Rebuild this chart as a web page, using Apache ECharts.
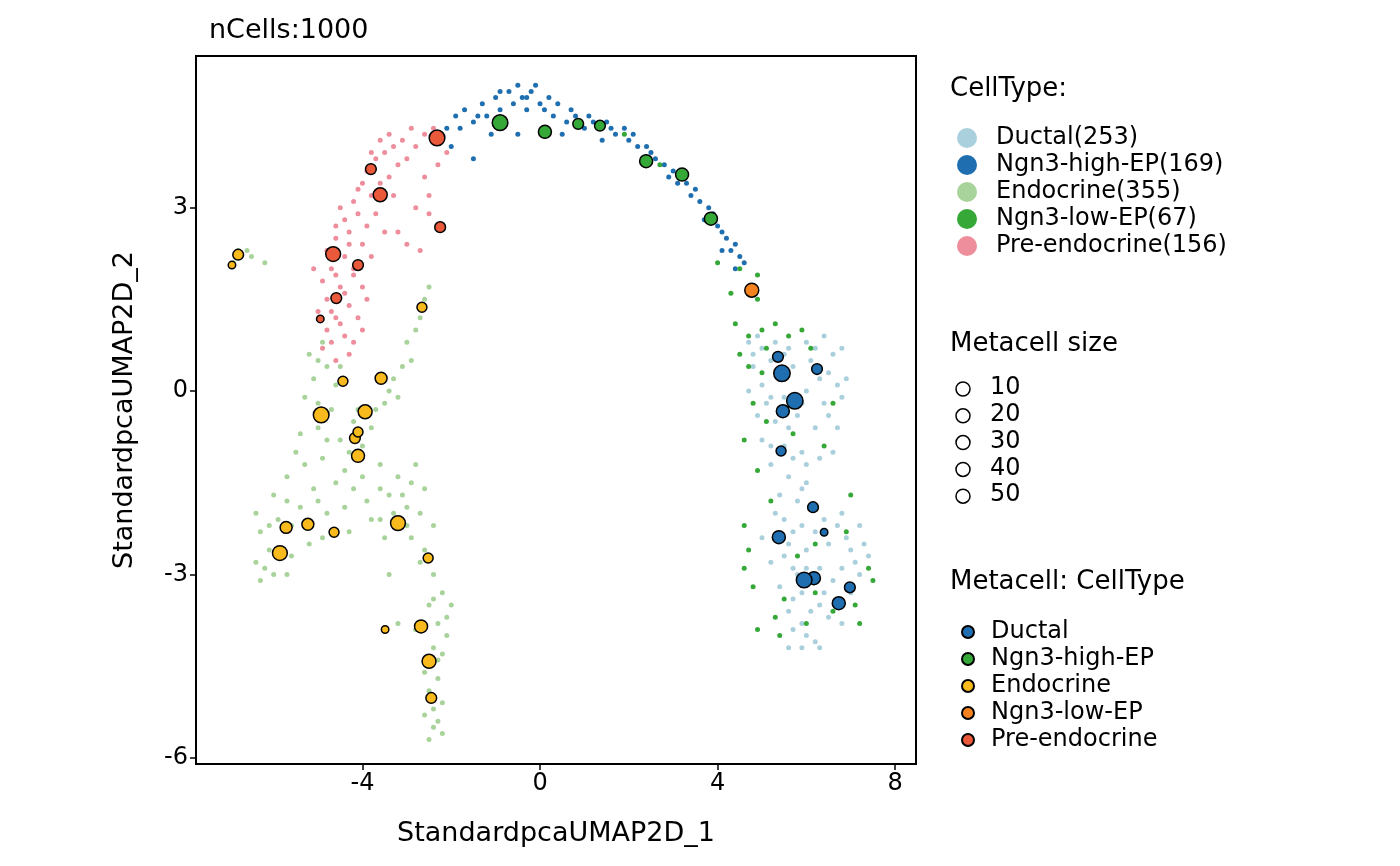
<!DOCTYPE html>
<html>
<head>
<meta charset="utf-8">
<script src="https://cdn.jsdelivr.net/npm/echarts@6/dist/echarts.min.js"></script>
<style>html,body{margin:0;padding:0;background:#fff}#chart{width:1400px;height:866px}</style>
</head>
<body>
<div id="chart"></div>
<script>
// 细胞类型
const cellTypes = ['Ductal', 'Ngn3-high-EP', 'Endocrine', 'Ngn3-low-EP', 'Pre-endocrine'];
const cellCounts = [253, 169, 355, 67, 156];
const cellColors = ['#A9D0DC', '#1F6FB0', '#A8D39A', '#35A838', '#EE8E9C'];
const metaColors = ['#1F6FB0', '#35A838', '#F8BA1C', '#F4821F', '#EA5A3A'];
const xTicks = [-4, 0, 4, 8];
const yTicks = [-6, -3, 0, 3];
const sizeTicks = [10, 20, 30, 40, 50];

// 单细胞坐标
const ductalCells = [[4.7,0.8],[5.0,0.7],[5.3,0.8],[5.6,0.7],[6.0,0.8],[6.4,0.9],[6.8,0.7],[4.8,0.4],[5.2,0.5],[5.7,0.4],[6.1,0.5],[6.5,0.3],[6.9,0.2],[4.7,0.0],[5.0,0.1],[5.5,-0.1],[6.0,0.0],[6.4,-0.2],[6.8,-0.1],[4.9,-0.4],[5.3,-0.5],[5.8,-0.4],[6.2,-0.6],[6.7,-0.6],[5.0,-0.8],[5.5,-0.9],[5.9,-1.0],[6.3,-1.1],[5.2,-1.2],[5.6,-1.4],[6.0,-1.5],[5.4,-1.7],[5.8,-1.8],[6.2,-1.9],[5.5,-2.1],[5.9,-2.2],[6.4,-2.1],[6.8,-2.0],[7.2,-2.2],[5.0,-2.4],[5.6,-2.5],[6.0,-2.6],[6.5,-2.5],[7.0,-2.6],[7.4,-2.7],[5.2,-2.8],[5.7,-2.9],[6.3,-2.9],[6.8,-2.9],[7.2,-3.0],[5.4,-3.2],[5.9,-3.3],[6.4,-3.3],[7.0,-3.3],[5.6,-3.6],[6.1,-3.6],[6.5,-3.7],[5.7,-3.9],[6.0,-4.0],[5.9,-4.2],[6.2,-4.1],[5.6,-4.2],[6.8,-3.8],[6.0,-1.2],[5.3,-2.0],[7.3,-2.5],[4.9,0.9],[6.6,0.6],[5.4,0.2],[6.3,0.2],[5.1,-0.2],[6.6,-1.0],[6.9,-2.4],[5.8,-3.0],[6.3,-4.2],[4.8,0.6],[5.5,0.6],[6.2,0.7],[6.7,0.1],[5.2,-0.1],[5.9,-0.2],[6.5,-0.4],[5.6,-0.6],[5.2,-0.9],[5.7,-1.1],[5.9,-1.6],[5.7,-2.3],[6.2,-2.3],[6.7,-2.2],[7.1,-2.8],[5.5,-2.7],[6.0,-2.9],[6.6,-3.1],[5.7,-3.4],[6.3,-3.5],[5.9,-3.8]];
const highEPCells = [[-2.1,4.3],[-1.9,4.5],[-1.7,4.6],[-1.5,4.4],[-1.3,4.7],[-1.2,4.5],[-1.0,4.8],[-0.9,4.6],[-0.7,4.9],[-0.6,4.7],[-0.5,5.0],[-0.4,4.8],[-0.3,4.6],[-0.2,4.9],[-0.1,5.0],[0.0,4.7],[0.1,4.6],[0.3,4.5],[0.4,4.7],[0.6,4.4],[0.8,4.5],[1.0,4.3],[1.2,4.4],[1.5,4.4],[1.7,4.2],[1.9,4.3],[2.0,4.1],[2.2,4.0],[2.4,4.0],[2.6,3.8],[2.8,3.7],[3.0,3.6],[3.1,3.4],[3.3,3.4],[3.5,3.3],[3.6,3.1],[3.8,3.0],[3.9,2.9],[4.0,2.7],[4.1,2.6],[4.2,2.5],[4.3,2.3],[4.4,2.4],[4.5,2.2],[4.6,2.1],[-1.5,3.8],[-0.5,4.2],[0.5,4.2],[-1.1,4.2],[-2.0,4.0],[1.4,4.1],[-0.8,4.4],[3.7,2.8],[4.1,2.3],[2.9,3.5],[-1.8,4.3],[-1.4,4.5],[-0.9,4.9],[-0.3,4.8],[0.2,4.8],[0.7,4.6],[1.1,4.5],[1.6,4.3],[2.1,4.2],[2.5,3.9],[3.2,3.5],[3.4,3.2],[4.4,2.0]];
const endocrineCells = [[-6.8,2.3],[-6.5,2.2],[-6.9,2.1],[-6.2,2.1],[-6.6,2.3],[-2.5,1.7],[-2.6,1.5],[-2.7,1.2],[-2.8,1.0],[-3.0,0.8],[-2.9,0.5],[-3.1,0.4],[-3.3,0.2],[-3.4,0.0],[-3.5,-0.2],[-3.7,-0.3],[-3.2,-0.1],[-4.9,0.8],[-5.2,0.6],[-4.8,0.4],[-5.1,0.2],[-4.6,0.1],[-5.3,-0.1],[-4.7,-0.3],[-5.0,-0.6],[-5.4,-0.7],[-4.5,-0.8],[-4.1,-0.3],[-4.3,-1.0],[-4.9,-1.1],[-5.3,-1.2],[-5.7,-1.4],[-6.0,-1.7],[-4.6,-1.5],[-5.1,-1.6],[-4.0,-1.4],[-3.6,-1.2],[-3.2,-1.4],[-2.9,-1.5],[-2.6,-1.6],[-3.4,-1.7],[-3.9,-1.8],[-4.4,-1.9],[-4.8,-2.0],[-5.4,-1.9],[-5.9,-2.1],[-6.3,-2.3],[-6.1,-2.6],[-6.4,-2.8],[-6.0,-3.0],[-6.3,-3.1],[-5.6,-2.7],[-5.2,-2.5],[-4.9,-2.4],[-4.3,-2.3],[-3.8,-2.1],[-3.0,-1.9],[-2.7,-2.0],[-3.5,-2.4],[-2.9,-2.4],[-2.6,-2.6],[-2.4,-3.0],[-2.2,-3.3],[-2.5,-3.5],[-2.3,-3.8],[-2.1,-4.0],[-2.4,-4.2],[-2.6,-4.6],[-2.3,-4.7],[-2.5,-4.9],[-2.2,-5.1],[-2.6,-5.3],[-2.4,-5.5],[-2.2,-5.6],[-2.8,-3.9],[-3.2,-3.8],[-4.0,-0.9],[-3.8,-0.6],[-6.4,-2.0],[-5.7,-3.0],[-4.4,-1.3],[-3.4,-3.0],[-2.8,-1.2],[-2.0,-3.5],[-3.0,-2.2],[-3.6,-1.6],[-5.6,-2.2],[-4.2,-0.5],[-2.4,-2.2],[-2.3,-4.4],[-2.5,-5.7],[-5.0,-0.2],[-4.8,-0.8],[-5.5,-1.0],[-4.2,-1.6],[-3.3,-2.0],[-3.1,-1.7],[-3.6,-2.1],[-5.0,-1.8],[-5.7,-1.8],[-6.2,-2.9],[-6.1,-2.2],[-2.4,-3.4],[-2.2,-4.3],[-2.4,-5.2],[-2.3,-5.4],[-2.1,-3.7],[-2.7,-2.8],[-4.5,0.4],[-5.0,0.5]];
const lowEPCells = [[4.5,2.0],[4.9,1.9],[4.4,1.1],[4.7,0.9],[5.0,1.0],[5.3,1.1],[4.5,0.6],[4.7,0.4],[5.6,0.9],[5.9,1.0],[6.1,0.7],[4.8,-0.2],[5.1,-0.5],[5.7,-0.7],[6.4,-0.9],[4.9,-1.3],[4.6,-2.2],[4.7,-2.6],[4.6,-2.9],[4.8,-3.2],[5.5,-3.4],[6.2,-3.3],[7.4,-2.9],[7.5,-3.1],[4.9,-3.9],[5.3,-3.7],[6.6,-3.6],[7.1,-3.5],[5.8,-2.7],[6.2,-2.5],[4.6,-0.8],[5.0,0.3],[1.9,4.2],[2.7,3.7],[4.0,2.1],[5.2,-1.8],[7.0,-1.7],[6.6,-0.2],[5.4,-4.0],[6.0,-3.8],[4.9,1.5],[4.3,1.6],[5.1,0.7],[6.9,-2.3],[7.2,-3.8]];
const preEndoCells = [[-2.9,4.3],[-2.6,4.2],[-3.1,4.1],[-3.3,4.0],[-2.8,4.0],[-3.5,3.9],[-3.0,3.8],[-3.7,3.8],[-3.2,3.7],[-3.9,3.6],[-3.4,3.5],[-4.0,3.4],[-3.6,3.4],[-3.8,3.2],[-4.2,3.1],[-3.3,3.2],[-4.1,2.9],[-3.7,2.9],[-4.4,2.8],[-3.9,2.7],[-4.3,2.6],[-3.5,2.6],[-4.6,2.5],[-4.0,2.4],[-4.8,2.3],[-4.4,2.2],[-3.8,2.2],[-4.7,2.0],[-4.2,1.9],[-4.9,1.8],[-4.5,1.7],[-4.0,1.7],[-4.8,1.5],[-4.3,1.4],[-5.0,1.3],[-4.6,1.2],[-4.1,1.2],[-4.8,1.0],[-4.4,0.9],[-4.9,0.7],[-4.3,0.6],[-4.6,0.5],[-2.3,3.7],[-2.6,3.5],[-2.5,3.2],[-2.8,3.0],[-2.5,2.9],[-3.0,2.4],[-2.7,2.3],[-3.2,2.6],[-2.1,3.9],[-2.4,4.3],[-3.6,4.1],[-4.5,3.0],[-4.6,2.7],[-5.1,2.0],[-4.0,1.0],[-3.9,1.5],[-4.7,0.8],[-4.2,2.0],[-3.4,4.2],[-3.8,3.9],[-4.1,3.3],[-4.3,2.4],[-4.6,1.9],[-4.4,1.6],[-4.7,1.3],[-4.5,1.1],[-4.2,0.8]];
const cellData = [ductalCells, highEPCells, endocrineCells, lowEPCells, preEndoCells];

// 元细胞: [x, y, size]
const metaDuctal = [[5.36,0.56,15],[5.45,0.29,45],[6.24,0.36,15],[5.74,-0.16,45],[5.47,-0.33,25],[5.43,-0.98,12],[6.15,-1.90,15],[6.40,-2.31,5],[5.38,-2.39,25],[6.17,-3.06,25],[5.95,-3.09,40],[6.98,-3.21,15],[6.73,-3.47,25]];
const metaHighEP = [[-0.90,4.39,40],[0.11,4.24,25],[0.86,4.37,15],[1.35,4.34,15],[2.39,3.76,25],[3.20,3.54,25],[3.85,2.82,25]];
const metaEndocrine = [[-6.80,2.23,15],[-6.94,2.06,5],[-2.66,1.37,12],[-4.44,0.16,12],[-3.58,0.21,20],[-4.93,-0.39,40],[-3.94,-0.34,30],[-4.17,-0.77,15],[-4.10,-0.67,12],[-4.10,-1.06,25],[-5.72,-2.23,20],[-5.23,-2.18,20],[-5.86,-2.65,35],[-4.64,-2.31,12],[-3.20,-2.16,35],[-2.52,-2.73,12],[-2.68,-3.85,25],[-3.49,-3.90,5],[-2.50,-4.42,30],[-2.45,-5.02,15]];
const metaLowEP = [[4.77,1.65,30]];
const metaPreEndo = [[-2.32,4.14,40],[-3.81,3.63,15],[-3.60,3.21,30],[-2.25,2.68,15],[-4.66,2.24,35],[-4.10,2.06,15],[-4.59,1.52,15],[-4.95,1.18,5]];
const metaData = [metaDuctal, metaHighEP, metaEndocrine, metaLowEP, metaPreEndo];

const FONT = 'DejaVu Sans';
const sizeToPx = s => 3 + 2 * Math.sqrt(s);

const chart = echarts.init(document.getElementById('chart'));

const series = [];
cellTypes.forEach((t, i) => {
  series.push({
    name: t + '(' + cellCounts[i] + ')',
    type: 'scatter',
    data: cellData[i],
    symbolSize: 5,
    itemStyle: { color: cellColors[i], opacity: 1 },
    z: 2
  });
});
cellTypes.forEach((t, i) => {
  series.push({
    name: t,
    type: 'scatter',
    data: metaData[i],
    symbolSize: d => sizeToPx(d[2]),
    itemStyle: { color: metaColors[i], borderColor: '#000', borderWidth: 1.5, opacity: 1 },
    z: 5
  });
});

// 尺寸图例
const graphics = [
  { type: 'text', left: 950, top: 76, style: { text: 'CellType:', font: '26px ' + FONT, fill: '#000' } },
  { type: 'text', left: 950, top: 331, style: { text: 'Metacell size', font: '26px ' + FONT, fill: '#000' } },
  { type: 'text', left: 950, top: 569, style: { text: 'Metacell: CellType', font: '26px ' + FONT, fill: '#000' } }
];
sizeTicks.forEach((s, i) => {
  const cy = 389 + i * 26.8;
  graphics.push({ type: 'circle', shape: { cx: 963, cy: cy, r: 7 }, style: { fill: '#fff', stroke: '#000', lineWidth: 1.5 } });
  graphics.push({ type: 'text', left: 990, top: cy - 13, style: { text: String(s), font: '24px ' + FONT, fill: '#000' } });
});

const option = {
  animation: false,
  title: { text: 'nCells:1000', left: 204, top: 12, textStyle: { fontFamily: FONT, fontSize: 27, fontWeight: 'normal', color: '#000' } },
  grid: { left: 196, right: 484, top: 56, bottom: 102, show: true, borderColor: '#000', borderWidth: 2, backgroundColor: '#fff' },
  xAxis: {
    type: 'value', min: -7.75, max: 8.47,
    name: 'StandardpcaUMAP2D_1', nameLocation: 'middle', nameGap: 56,
    nameTextStyle: { fontFamily: FONT, fontSize: 27, color: '#000' },
    axisLine: { show: true, onZero: false, lineStyle: { color: '#000', width: 2 } },
    splitLine: { show: false },
    axisTick: { show: true, length: 6, customValues: xTicks, lineStyle: { color: '#000', width: 1.5 } },
    axisLabel: { customValues: xTicks, fontFamily: FONT, fontSize: 24, color: '#000', margin: 8 }
  },
  yAxis: {
    type: 'value', min: -6.1, max: 5.48,
    name: 'StandardpcaUMAP2D_2', nameLocation: 'middle', nameGap: 58,
    nameTextStyle: { fontFamily: FONT, fontSize: 27, color: '#000' },
    axisLine: { show: true, onZero: false, lineStyle: { color: '#000', width: 2 } },
    splitLine: { show: false },
    axisTick: { show: true, length: 6, customValues: yTicks, lineStyle: { color: '#000', width: 1.5 } },
    axisLabel: { customValues: yTicks, fontFamily: FONT, fontSize: 24, color: '#000', margin: 8 }
  },
  legend: [
    {
      data: cellTypes.map((t, i) => ({ name: t + '(' + cellCounts[i] + ')', icon: 'circle' })),
      orient: 'vertical', left: 952, top: 121, itemWidth: 20, itemHeight: 20, itemGap: 3,
      textStyle: { fontFamily: FONT, fontSize: 24, lineHeight: 24, color: '#000', padding: [0, 0, 0, 14] }, selectedMode: false
    },
    {
      data: cellTypes.map(t => ({ name: t, icon: 'circle' })),
      orient: 'vertical', left: 956, top: 615, itemWidth: 12, itemHeight: 12, itemGap: 3,
      textStyle: { fontFamily: FONT, fontSize: 24, lineHeight: 24, color: '#000', padding: [0, 0, 0, 12] }, selectedMode: false
    }
  ],
  graphic: graphics,
  series: series
};

chart.setOption(option);
</script>
</body>
</html>
